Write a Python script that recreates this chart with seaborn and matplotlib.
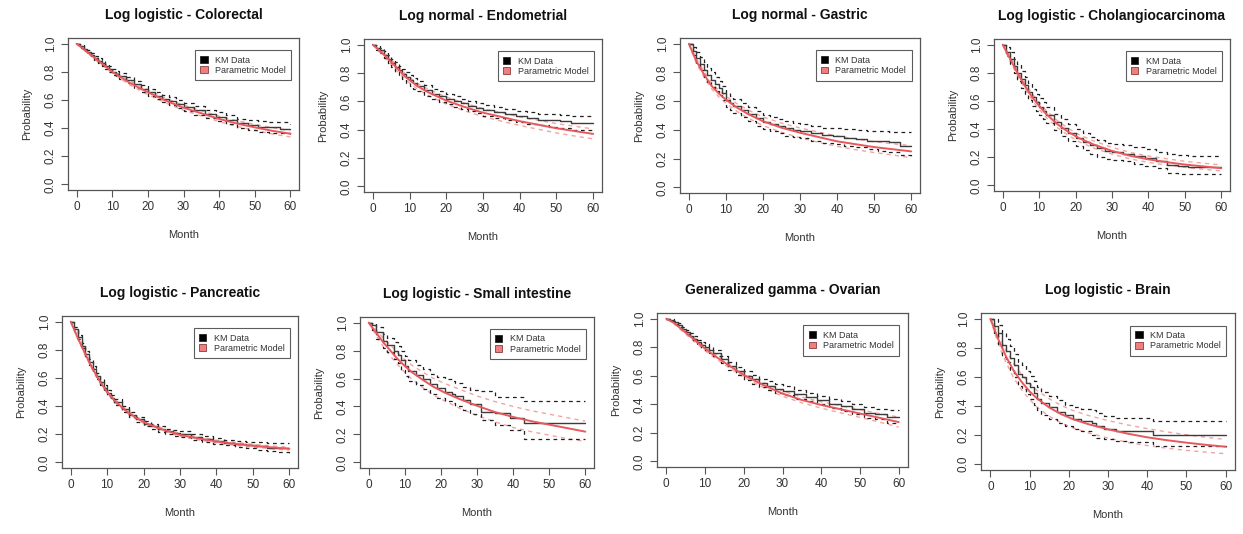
import numpy as np
import pandas as pd
import seaborn as sns
import matplotlib
matplotlib.use("Agg")
import matplotlib.pyplot as plt
from matplotlib.patches import Patch

# ---------------- data ----------------
TITLES = ["Log logistic - Colorectal", "Log normal - Endometrial", "Log normal - Gastric",
          "Log logistic - Cholangiocarcinoma", "Log logistic - Pancreatic",
          "Log logistic - Small intestine", "Generalized gamma - Ovarian", "Log logistic - Brain"]
X_TICKS = [0, 10, 20, 30, 40, 50, 60]
Y_TICKS = [0.0, 0.2, 0.4, 0.6, 0.8, 1.0]
Y_TICK_LABELS = ["0.0", "0.2", "0.4", "0.6", "0.8", "1.0"]

# shared Kaplan-Meier reading grid (months)
KM_T = [0, 1, 2, 3, 4, 5, 6, 7, 8, 9, 10, 11, 12, 14, 16, 18, 20, 22, 24, 26, 28, 30,
        33, 36, 39, 42, 45, 48, 51, 54, 57, 60]

# Colorectal
col_model_t = [0, 3, 6, 10, 15, 20, 25, 30, 35, 40, 45, 50, 55, 60]
col_model = [1.0, 0.94, 0.88, 0.80, 0.72, 0.655, 0.595, 0.545, 0.505, 0.465, 0.432, 0.405, 0.38, 0.36]
col_model_lo = [1.0, 0.935, 0.87, 0.79, 0.705, 0.638, 0.578, 0.527, 0.486, 0.446, 0.412, 0.384, 0.358, 0.337]
col_model_hi = [1.0, 0.945, 0.89, 0.81, 0.735, 0.672, 0.612, 0.563, 0.524, 0.484, 0.452, 0.426, 0.402, 0.383]
col_km_t = KM_T
col_km = [1.0, .98, .96, .94, .92, .90, .88, .86, .84, .82, .80, .785, .77, .74, .71, .68, .655, .63, .61, .59, .57, .55, .525, .50, .48, .46, .435, .42, .41, .405, .395, .39]
col_km_hi = [1.0, .99, .972, .953, .934, .915, .896, .877, .858, .839, .82, .806, .792, .763, .734, .705, .68, .656, .637, .618, .598, .578, .554, .53, .512, .493, .468, .455, .448, .445, .44, .43]
col_km_lo = [1.0, .97, .948, .927, .906, .885, .864, .843, .822, .801, .78, .764, .748, .717, .686, .655, .63, .604, .583, .562, .542, .522, .496, .47, .448, .427, .402, .385, .375, .368, .362, .355]

# Endometrial
end_model_t = [0, 3, 6, 9, 12, 15, 20, 25, 30, 35, 40, 45, 50, 55, 60]
end_model = [1.0, 0.93, 0.85, 0.77, 0.71, 0.665, 0.605, 0.56, 0.52, 0.49, 0.46, 0.435, 0.41, 0.39, 0.37]
end_model_lo = [1.0, 0.915, 0.83, 0.75, 0.69, 0.643, 0.58, 0.533, 0.492, 0.46, 0.43, 0.403, 0.377, 0.355, 0.335]
end_model_hi = [1.0, 0.945, 0.87, 0.79, 0.73, 0.687, 0.63, 0.587, 0.548, 0.52, 0.49, 0.467, 0.443, 0.424, 0.405]
end_km_t = KM_T
end_km = [1.0, .98, .96, .93, .90, .87, .845, .82, .79, .77, .75, .73, .71, .68, .655, .635, .62, .60, .585, .57, .555, .54, .525, .51, .495, .48, .47, .465, .46, .45, .45, .45]
end_km_hi = [1.0, .995, .98, .955, .93, .90, .875, .85, .825, .805, .785, .765, .745, .715, .69, .67, .655, .635, .62, .605, .59, .575, .56, .548, .535, .522, .512, .508, .505, .50, .50, .50]
end_km_lo = [1.0, .965, .94, .905, .87, .84, .81, .785, .755, .73, .71, .69, .67, .64, .615, .595, .58, .56, .545, .53, .515, .50, .485, .47, .455, .44, .43, .42, .41, .40, .40, .40]

# Gastric
gas_model_t = [0, 1, 2, 4, 6, 8, 10, 13, 16, 20, 25, 30, 35, 40, 45, 50, 55, 60]
gas_model = [1.0, 0.94, 0.88, 0.79, 0.71, 0.655, 0.61, 0.555, 0.51, 0.46, 0.415, 0.38, 0.35, 0.32, 0.30, 0.28, 0.265, 0.25]
gas_model_lo = [1.0, 0.93, 0.865, 0.77, 0.69, 0.632, 0.585, 0.528, 0.482, 0.43, 0.383, 0.345, 0.313, 0.285, 0.262, 0.242, 0.225, 0.205]
gas_model_hi = [1.0, 0.95, 0.895, 0.81, 0.73, 0.678, 0.635, 0.582, 0.538, 0.49, 0.447, 0.413, 0.385, 0.357, 0.337, 0.318, 0.303, 0.29]
gas_km_t = KM_T
gas_km = [1.0, .95, .90, .86, .82, .78, .75, .72, .69, .655, .61, .585, .565, .54, .51, .48, .455, .44, .425, .41, .40, .39, .38, .365, .355, .345, .335, .325, .32, .315, .29, .29]
gas_km_hi = [1.0, .98, .94, .905, .87, .83, .80, .77, .74, .705, .66, .635, .615, .59, .56, .53, .505, .49, .475, .46, .45, .44, .43, .415, .41, .405, .40, .395, .39, .385, .385, .385]
gas_km_lo = [1.0, .92, .86, .815, .77, .73, .70, .67, .64, .605, .56, .535, .515, .49, .46, .43, .405, .39, .375, .36, .35, .34, .325, .31, .30, .29, .28, .265, .255, .245, .225, .22]

# Cholangiocarcinoma
cho_model_t = [0, 1, 2, 4, 6, 8, 10, 12, 15, 18, 21, 25, 30, 35, 40, 45, 50, 55, 60]
cho_model = [1.0, 0.95, 0.90, 0.80, 0.71, 0.63, 0.565, 0.505, 0.435, 0.38, 0.335, 0.29, 0.245, 0.21, 0.185, 0.165, 0.148, 0.135, 0.122]
cho_model_lo = [1.0, 0.94, 0.885, 0.78, 0.69, 0.608, 0.54, 0.48, 0.41, 0.355, 0.31, 0.265, 0.222, 0.188, 0.163, 0.144, 0.128, 0.115, 0.102]
cho_model_hi = [1.0, 0.96, 0.915, 0.82, 0.73, 0.652, 0.59, 0.53, 0.46, 0.405, 0.36, 0.315, 0.27, 0.234, 0.209, 0.189, 0.171, 0.158, 0.145]
cho_km_t = KM_T
cho_km = [1.0, .95, .90, .85, .80, .755, .71, .665, .625, .59, .56, .53, .50, .45, .41, .375, .34, .31, .285, .265, .245, .235, .225, .21, .195, .17, .145, .135, .13, .13, .13, .13]
cho_km_hi = [1.0, .985, .945, .90, .86, .815, .77, .725, .685, .65, .62, .59, .56, .51, .47, .435, .40, .37, .345, .32, .30, .295, .29, .275, .26, .235, .22, .215, .21, .21, .21, .21]
cho_km_lo = [1.0, .92, .86, .80, .745, .695, .65, .605, .565, .53, .50, .47, .44, .39, .35, .315, .28, .25, .225, .205, .19, .18, .17, .155, .14, .12, .09, .08, .08, .08, .08, .08]

# Pancreatic
pan_model_t = [0, 1, 2, 4, 6, 8, 10, 12, 15, 18, 21, 25, 30, 35, 40, 45, 50, 55, 60]
pan_model = [1.0, 0.94, 0.88, 0.77, 0.665, 0.575, 0.50, 0.44, 0.37, 0.315, 0.275, 0.235, 0.195, 0.17, 0.148, 0.132, 0.118, 0.107, 0.097]
pan_model_lo = [1.0, 0.935, 0.872, 0.76, 0.655, 0.565, 0.49, 0.43, 0.36, 0.305, 0.265, 0.225, 0.185, 0.16, 0.138, 0.122, 0.108, 0.097, 0.087]
pan_model_hi = [1.0, 0.945, 0.888, 0.78, 0.675, 0.585, 0.51, 0.45, 0.38, 0.325, 0.285, 0.245, 0.205, 0.18, 0.158, 0.142, 0.128, 0.117, 0.107]
pan_km_t = KM_T
pan_km = [1.0, .95, .89, .83, .77, .715, .665, .615, .57, .53, .495, .46, .43, .38, .34, .305, .275, .255, .235, .22, .21, .20, .18, .165, .15, .14, .13, .125, .115, .105, .10, .10]
pan_km_hi = [1.0, .96, .905, .85, .79, .735, .685, .635, .59, .55, .515, .48, .45, .40, .36, .325, .295, .275, .255, .24, .23, .22, .20, .185, .17, .16, .152, .147, .143, .14, .14, .14]
pan_km_lo = [1.0, .94, .875, .81, .75, .695, .645, .595, .55, .51, .475, .44, .41, .36, .32, .285, .255, .235, .215, .20, .19, .18, .16, .145, .13, .12, .108, .10, .088, .078, .072, .07]

# Small intestine
sma_model_t = [0, 2, 4, 6, 8, 10, 12, 15, 18, 21, 25, 30, 35, 40, 45, 50, 55, 60]
sma_model = [1.0, 0.93, 0.86, 0.80, 0.74, 0.69, 0.645, 0.59, 0.54, 0.50, 0.455, 0.405, 0.36, 0.325, 0.295, 0.27, 0.245, 0.22]
sma_model_lo = [1.0, 0.91, 0.83, 0.76, 0.70, 0.645, 0.595, 0.535, 0.48, 0.44, 0.39, 0.335, 0.29, 0.25, 0.22, 0.195, 0.17, 0.15]
sma_model_hi = [1.0, 0.95, 0.89, 0.84, 0.785, 0.735, 0.695, 0.645, 0.60, 0.565, 0.525, 0.475, 0.435, 0.40, 0.37, 0.345, 0.32, 0.295]
sma_km_t = [0, 1, 2, 4, 5, 7, 8, 9, 10, 11, 13, 15, 17, 19, 21, 23, 24, 26, 28, 31, 35, 39, 43, 60]
sma_km = [1.0, 0.98, 0.93, 0.87, 0.84, 0.80, 0.77, 0.73, 0.69, 0.655, 0.625, 0.595, 0.56, 0.53, 0.505, 0.49, 0.475, 0.445, 0.415, 0.36, 0.35, 0.32, 0.28, 0.28]
sma_km_hi = [1.0, 1.0, 0.97, 0.92, 0.89, 0.86, 0.83, 0.80, 0.76, 0.73, 0.70, 0.67, 0.635, 0.61, 0.595, 0.585, 0.565, 0.54, 0.515, 0.51, 0.47, 0.465, 0.44, 0.44]
sma_km_lo = [1.0, 0.95, 0.88, 0.82, 0.79, 0.74, 0.71, 0.66, 0.62, 0.58, 0.555, 0.525, 0.49, 0.46, 0.44, 0.425, 0.405, 0.375, 0.345, 0.30, 0.27, 0.23, 0.17, 0.17]

# Ovarian
ova_model_t = [0, 2, 4, 6, 8, 10, 13, 16, 20, 25, 30, 35, 40, 45, 50, 55, 60]
ova_model = [1.0, 0.97, 0.925, 0.88, 0.835, 0.79, 0.73, 0.675, 0.605, 0.535, 0.475, 0.43, 0.395, 0.365, 0.335, 0.305, 0.275]
ova_model_lo = [1.0, 0.965, 0.915, 0.868, 0.822, 0.776, 0.715, 0.66, 0.59, 0.518, 0.456, 0.41, 0.373, 0.34, 0.308, 0.275, 0.24]
ova_model_hi = [1.0, 0.975, 0.935, 0.892, 0.848, 0.804, 0.745, 0.69, 0.62, 0.552, 0.494, 0.45, 0.417, 0.39, 0.362, 0.335, 0.31]
ova_km_t = KM_T
ova_km = [1.0, .99, .975, .955, .93, .905, .88, .86, .835, .815, .80, .78, .76, .715, .67, .635, .60, .575, .55, .53, .51, .495, .47, .45, .43, .405, .385, .365, .34, .335, .31, .31]
ova_km_hi = [1.0, .995, .985, .967, .943, .92, .897, .877, .853, .834, .82, .80, .782, .74, .697, .663, .63, .605, .58, .56, .54, .525, .50, .48, .46, .435, .42, .40, .38, .37, .36, .36]
ova_km_lo = [1.0, .985, .965, .943, .917, .89, .863, .843, .817, .796, .78, .76, .738, .69, .643, .607, .57, .545, .52, .50, .48, .465, .44, .42, .40, .375, .355, .33, .305, .295, .27, .27]

# Brain
bra_model_t = [0, 1, 2, 3, 4, 6, 8, 10, 12, 15, 18, 21, 25, 30, 35, 40, 45, 50, 55, 60]
bra_model = [1.0, 0.93, 0.86, 0.80, 0.74, 0.64, 0.565, 0.50, 0.45, 0.39, 0.345, 0.31, 0.275, 0.24, 0.21, 0.185, 0.165, 0.148, 0.133, 0.12]
bra_model_lo = [1.0, 0.91, 0.83, 0.76, 0.70, 0.59, 0.51, 0.445, 0.39, 0.33, 0.285, 0.25, 0.215, 0.18, 0.15, 0.128, 0.11, 0.095, 0.083, 0.072]
bra_model_hi = [1.0, 0.95, 0.89, 0.835, 0.78, 0.69, 0.615, 0.555, 0.505, 0.45, 0.405, 0.37, 0.335, 0.30, 0.27, 0.245, 0.222, 0.203, 0.185, 0.17]
bra_km_t = [0, 1, 2, 3, 4, 5, 6, 7, 8, 9, 10, 11, 12, 13, 15, 17, 19, 21, 23, 26, 27, 29, 32, 35, 41.5, 60]
bra_km = [1.0, 0.95, 0.90, 0.82, 0.78, 0.73, 0.68, 0.62, 0.60, 0.56, 0.53, 0.49, 0.45, 0.42, 0.39, 0.36, 0.34, 0.31, 0.30, 0.28, 0.26, 0.24, 0.23, 0.225, 0.20, 0.20]
bra_km_hi = [1.0, 1.0, 0.96, 0.90, 0.86, 0.81, 0.76, 0.70, 0.68, 0.64, 0.61, 0.57, 0.53, 0.50, 0.47, 0.44, 0.41, 0.39, 0.38, 0.37, 0.35, 0.33, 0.32, 0.32, 0.30, 0.30]
bra_km_lo = [1.0, 0.90, 0.83, 0.74, 0.70, 0.65, 0.60, 0.54, 0.52, 0.48, 0.45, 0.41, 0.37, 0.34, 0.31, 0.285, 0.265, 0.24, 0.225, 0.20, 0.18, 0.17, 0.16, 0.155, 0.125, 0.12]

PANELS = [
    (col_model_t, col_model, col_model_lo, col_model_hi, col_km_t, col_km, col_km_lo, col_km_hi),
    (end_model_t, end_model, end_model_lo, end_model_hi, end_km_t, end_km, end_km_lo, end_km_hi),
    (gas_model_t, gas_model, gas_model_lo, gas_model_hi, gas_km_t, gas_km, gas_km_lo, gas_km_hi),
    (cho_model_t, cho_model, cho_model_lo, cho_model_hi, cho_km_t, cho_km, cho_km_lo, cho_km_hi),
    (pan_model_t, pan_model, pan_model_lo, pan_model_hi, pan_km_t, pan_km, pan_km_lo, pan_km_hi),
    (sma_model_t, sma_model, sma_model_lo, sma_model_hi, sma_km_t, sma_km, sma_km_lo, sma_km_hi),
    (ova_model_t, ova_model, ova_model_lo, ova_model_hi, ova_km_t, ova_km, ova_km_lo, ova_km_hi),
    (bra_model_t, bra_model, bra_model_lo, bra_model_hi, bra_km_t, bra_km, bra_km_lo, bra_km_hi),
]

# axes boxes in pixels: left, right, top, bottom
BOXES = [(68, 299, 38, 190), (364, 602, 39, 192), (680, 920, 38, 193), (994, 1230, 39, 191),
         (62, 298, 316, 468), (360, 594, 317, 468), (657, 908, 313, 467), (981, 1235, 313, 470)]

# ---------------- style ----------------
sns.set_style("white")
plt.rcParams['font.family'] = ['Liberation Sans', 'DejaVu Sans']
TXT = "#333333"
KM_COL = "#3c3c3c"
KM_CI_COL = "#202020"
MOD_COL = "#e8585c"
MOD_CI_COL = "#f4a3a3"
LEG_RED = "#ee7f80"

W, H = 1243, 534
fig = plt.figure(figsize=(W / 100, H / 100), dpi=100)
fig.patch.set_facecolor("white")

for i, (box, title, p) in enumerate(zip(BOXES, TITLES, PANELS)):
    l, r, t, b = box
    ax = fig.add_axes([l / W, 1 - b / H, (r - l) / W, (b - t) / H])
    mt, m, mlo, mhi, kt, k, klo, khi = p

    for yy in (mlo, mhi):
        sns.lineplot(x=mt, y=yy, ax=ax, color=MOD_CI_COL, lw=1.0, estimator=None,
                     sort=False, linestyle=(0, (3, 3)))
    for yy in (klo, khi):
        sns.lineplot(x=kt, y=yy, ax=ax, color=KM_CI_COL, lw=0.9, estimator=None,
                     sort=False, drawstyle="steps-post", linestyle=(0, (3, 3)))
    sns.lineplot(x=kt, y=k, ax=ax, color=KM_COL, lw=1.0, estimator=None, sort=False,
                 drawstyle="steps-post")
    sns.lineplot(x=mt, y=m, ax=ax, color=MOD_COL, lw=1.4, estimator=None, sort=False)

    ax.set_xlim(-2.4, 62.4)
    ax.set_ylim(-0.04, 1.04)
    ax.set_xticks(X_TICKS)
    ax.set_yticks(Y_TICKS)
    ax.set_yticklabels(Y_TICK_LABELS, rotation=90, va="center")
    ax.tick_params(axis="both", which="major", direction="out", length=5, width=0.8,
                   color="#555555", labelsize=8.5, labelcolor=TXT, pad=3,
                   bottom=True, left=True)
    for s in ax.spines.values():
        s.set_color("#555555")
        s.set_linewidth(0.9)
    ax.set_xlabel("Month", fontsize=8, color=TXT, labelpad=12)
    ax.set_ylabel("Probability", fontsize=8, color=TXT, labelpad=9)
    ax.set_title(title, fontsize=10, fontweight="bold", color="#111111", pad=14)

    handles = [Patch(facecolor="black", edgecolor="#222222", lw=0.6, label="KM Data"),
               Patch(facecolor=LEG_RED, edgecolor="#8a3a3a", lw=0.6, label="Parametric Model")]
    leg = ax.legend(handles=handles, loc="upper right", bbox_to_anchor=(0.965, 0.92),
                    fontsize=6.5, frameon=True, fancybox=False, borderpad=0.6,
                    handlelength=0.8, handleheight=0.8, handletextpad=0.8,
                    labelspacing=0.15, borderaxespad=0)
    leg.get_frame().set_edgecolor("#333333")
    leg.get_frame().set_linewidth(0.8)
    for txt in leg.get_texts():
        txt.set_color(TXT)

fig.savefig("out.png", dpi=100, facecolor="white")
